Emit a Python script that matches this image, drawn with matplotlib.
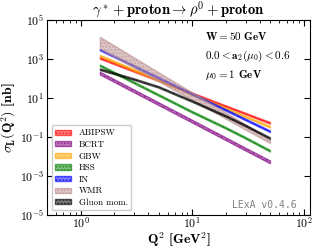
import numpy as np
import matplotlib
matplotlib.use("Agg")
import matplotlib.pyplot as plt
from matplotlib.ticker import FuncFormatter, NullLocator

plt.rcParams['mathtext.fontset'] = 'cm'
plt.rcParams['mathtext.default'] = 'bf'
plt.rcParams['font.family'] = 'serif'
plt.rcParams['font.serif'] = ['cmb10', 'DejaVu Serif']

# Q^2 grid in GeV^2
q2 = [1.5, 3, 5, 10, 20, 30, 50]

# log10 of sigma_L [nb], lower / upper edge of each band
abipsw_lo = [2.99, 2.33, 1.85, 1.19, 0.53, 0.15, -0.34]
abipsw_hi = [3.07, 2.41, 1.92, 1.26, 0.60, 0.22, -0.26]
bcrt_lo = [2.18, 1.28, 0.62, -0.28, -1.18, -1.71, -2.37]
bcrt_hi = [2.32, 1.42, 0.76, -0.14, -1.04, -1.57, -2.23]
gbw_lo = [3.11, 2.39, 1.86, 1.13, 0.41, -0.01, -0.54]
gbw_hi = [3.19, 2.47, 1.93, 1.21, 0.49, 0.07, -0.46]
hss_lo = [2.61, 1.74, 1.10, 0.23, -0.59, -1.10, -1.77]
hss_hi = [2.69, 1.82, 1.18, 0.31, -0.51, -1.02, -1.69]
in_lo = [3.42, 2.59, 1.98, 1.15, 0.33, -0.16, -0.77]
in_hi = [3.50, 2.67, 2.06, 1.23, 0.41, -0.08, -0.69]
wmr_lo = [3.50, 2.55, 1.84, 0.88, -0.08, -0.64, -1.33]
wmr_hi = [4.11, 3.07, 2.30, 1.27, 0.24, -0.37, -1.17]
gluon_lo = [2.41, 1.91, 1.51, 0.78, 0.02, -0.47, -1.12]
gluon_hi = [2.49, 1.99, 1.59, 0.86, 0.10, -0.39, -1.04]

labels = ['ABIPSW', 'BCRT', 'GBW', 'HSS', 'IN', 'WMR', 'Gluon mom.']
lows = [abipsw_lo, bcrt_lo, gbw_lo, hss_lo, in_lo, wmr_lo, gluon_lo]
highs = [abipsw_hi, bcrt_hi, gbw_hi, hss_hi, in_hi, wmr_hi, gluon_hi]
colors = ['red', 'purple', 'orange', 'green', 'blue', 'rosybrown', 'black']


def pow10(v, pos):
    # bold tick labels with a proper minus sign
    e = int(round(np.log10(v)))
    if e < 0:
        return r'$\mathbf{10^{\mathrm{-}%d}}$' % (-e)
    return r'$\mathbf{10^{%d}}$' % e


fig = plt.figure(figsize=(3.16, 2.5), dpi=100)
ax = fig.add_axes([0.149, 0.14, 0.832, 0.78])

for lab, lo, hi, col in zip(labels, lows, highs, colors):
    ax.fill_between(q2, 10 ** np.array(lo), 10 ** np.array(hi),
                    facecolor=matplotlib.colors.to_rgba(col, 0.5),
                    edgecolor=matplotlib.colors.to_rgba(col, 0.6),
                    hatch='.....', linewidth=1.0, label=lab)

ax.set_xscale('log')
ax.set_yscale('log')
ax.set_xlim(0.5, 113)
ax.set_ylim(1e-5, 1e5)
ax.set_yticks([1e-5, 1e-3, 1e-1, 1e1, 1e3, 1e5])
ax.yaxis.set_minor_locator(NullLocator())
ax.xaxis.set_major_formatter(FuncFormatter(pow10))
ax.yaxis.set_major_formatter(FuncFormatter(pow10))

ax.tick_params(which='both', direction='in', top=True, right=True, labelsize=8.5)
ax.tick_params(axis='x', pad=1)
ax.tick_params(axis='y', pad=2)
ax.tick_params(which='major', length=4, width=0.8)
ax.tick_params(which='minor', length=2, width=0.6)

ax.set_title(r'$\gamma^* + \mathbf{proton} \rightarrow \rho^0 + \mathbf{proton}$',
             fontsize=10.5, pad=3)
ax.set_xlabel(r'$Q^2$ [GeV$^2$]', fontsize=10, labelpad=-1)
ax.set_ylabel(r'$\sigma_L(Q^2)$ [nb]', fontsize=10, labelpad=1)

# parameters box
ax.text(0.60, 0.918, r'$W = 50$ GeV', transform=ax.transAxes, fontsize=8, va='center')
ax.text(0.60, 0.815, r'$0.0 < a_2(\mu_0) < 0.6$', transform=ax.transAxes, fontsize=8, va='center')
ax.text(0.60, 0.718, r'$\mu_0 = 1$ GeV', transform=ax.transAxes, fontsize=8, va='center')

ax.text(0.95, 0.05, 'LExA v0.4.6', transform=ax.transAxes, fontsize=7,
        family='DejaVu Sans Mono', color='gray', ha='right', va='center')

ax.legend(loc='lower left', prop={'family': 'cmr10', 'size': 6.5},
          handlelength=1.8, handleheight=0.5, labelspacing=0.35,
          borderpad=0.4, framealpha=1.0)

fig.savefig('out.png', dpi=100)
